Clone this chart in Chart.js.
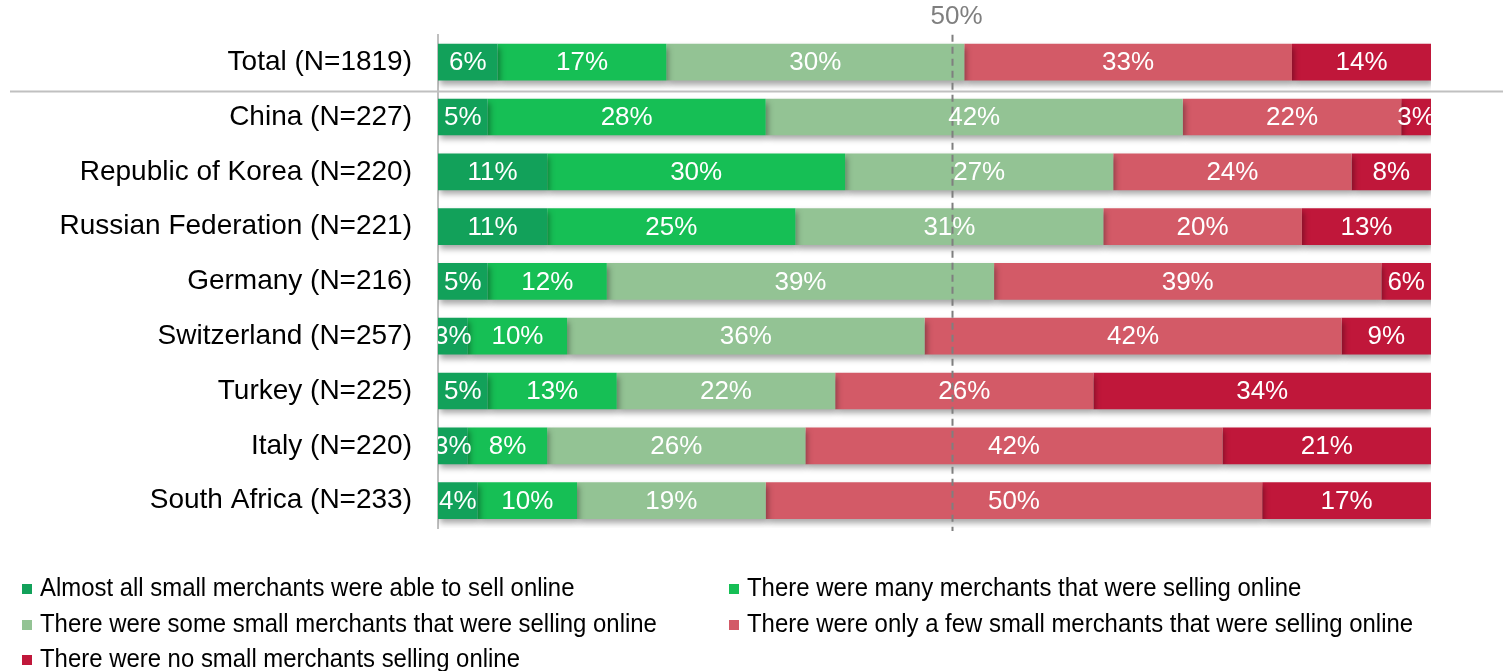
<!DOCTYPE html>
<html>
<head>
<meta charset="utf-8">
<script src="https://cdn.jsdelivr.net/npm/chart.js@4"></script>
<style>
  body { margin: 0; background: #fff; }
  #wrap { position: relative; width: 1503px; height: 671px; }
  #legend { position: absolute; left: 22px; top: 572px; width: 1460px;
    font-family: "Liberation Sans", Arial, sans-serif; font-size: 26px; color: #000; }
  .item { position: absolute; white-space: nowrap; line-height: 30px; }
  .box { display: inline-block; width: 10px; height: 10px; margin-right: 8px; vertical-align: 2px; }
  .txt { display: inline-block; transform: scaleX(0.92); transform-origin: left center; }
</style>
</head>
<body>
<div id="wrap">
  <canvas id="chart" width="1503" height="671"></canvas>
  <div id="legend"></div>
</div>
<script>
const categories = [
  "Total (N=1819)", "China (N=227)", "Republic of Korea (N=220)", "Russian Federation (N=221)",
  "Germany (N=216)", "Switzerland (N=257)", "Turkey (N=225)", "Italy (N=220)", "South Africa (N=233)"
];
const seriesNames = [
  "Almost all small merchants were able to sell online",
  "There were many merchants that were selling online",
  "There were some small merchants that were selling online",
  "There were only a few small merchants that were selling online",
  "There were no small merchants selling online"
];
const almostAll = [6, 5, 11, 11, 5, 3, 5, 3, 4];
const many      = [17, 28, 30, 25, 12, 10, 13, 8, 10];
const some      = [30, 42, 27, 31, 39, 36, 22, 26, 19];
const fewOnly   = [33, 22, 24, 20, 39, 42, 26, 42, 50];
const none      = [14, 3, 8, 13, 6, 9, 34, 21, 17];
const colors = ["#12A15A", "#16BF55", "#93C394", "#D35A67", "#C0173A"];
const markerValue = 51.8;
const markerLabel = "50%";

const seriesValues = [almostAll, many, some, fewOnly, none];

const extras = {
  id: "extras",
  beforeDatasetsDraw(chart) {
    const { ctx } = chart;
    ctx.save();
    ctx.shadowColor = "rgba(0,0,0,0.35)";
    ctx.shadowBlur = 6;
    ctx.shadowOffsetX = 2;
    ctx.shadowOffsetY = 4;
  },
  afterDatasetsDraw(chart) {
    const { ctx, chartArea, scales } = chart;
    ctx.restore();

    // separator under Total
    const y0 = scales.y.getPixelForValue(0);
    const y1 = scales.y.getPixelForValue(1);
    const sepY = Math.round((y0 + y1) / 2) + 1.5;
    ctx.save();
    ctx.strokeStyle = "#C0C0C0";
    ctx.lineWidth = 2;
    ctx.beginPath();
    ctx.moveTo(10, sepY);
    ctx.lineTo(chart.width, sepY);
    ctx.stroke();

    // 50% marker
    const mx = Math.round(scales.x.getPixelForValue(markerValue)) + 0.5;
    ctx.strokeStyle = "#7F7F7F";
    ctx.lineWidth = 2;
    ctx.setLineDash([7, 5]);
    ctx.beginPath();
    ctx.moveTo(mx, chartArea.top);
    ctx.lineTo(mx, chartArea.bottom + 3);
    ctx.stroke();
    ctx.setLineDash([]);
    ctx.fillStyle = "#7F7F7F";
    ctx.font = "26px 'Liberation Sans', Arial, sans-serif";
    ctx.textAlign = "center";
    ctx.textBaseline = "middle";
    ctx.fillText(markerLabel, mx + 4, 17);

    // bar labels
    ctx.beginPath();
    ctx.rect(chartArea.left, 0, chartArea.right - chartArea.left, chart.height);
    ctx.clip();
    ctx.fillStyle = "#fff";
    ctx.font = "26px 'Liberation Sans', Arial, sans-serif";
    chart.data.datasets.forEach((ds, i) => {
      chart.getDatasetMeta(i).data.forEach((bar, j) => {
        const left = Math.max(bar.base, chartArea.left);
        const right = Math.min(bar.x, chartArea.right);
        ctx.fillText(ds.data[j] + "%", (left + right) / 2, bar.y + 1);
      });
    });
    ctx.restore();
  }
};

new Chart(document.getElementById("chart"), {
  type: "bar",
  data: {
    labels: categories,
    datasets: seriesValues.map((vals, i) => ({
      label: seriesNames[i],
      data: vals,
      backgroundColor: colors[i],
      borderWidth: 0,
      categoryPercentage: 1,
      barPercentage: 0.67,
    })),
  },
  options: {
    indexAxis: "y",
    responsive: false,
    animation: false,
    layout: { padding: { top: 31, right: 72, bottom: 143, left: 0 } },
    plugins: { legend: { display: false }, tooltip: { enabled: false } },
    scales: {
      x: { stacked: true, min: 0, max: 100, display: false },
      y: {
        stacked: true,
        grid: { display: false },
        border: { display: true, color: "#BFBFBF", width: 2 },
        ticks: {
          color: "#000",
          padding: 18,
          font: { family: "'Liberation Sans', Arial, sans-serif", size: 28 },
        },
        afterFit(scale) { scale.width = 438; },
      },
    },
  },
  plugins: [extras],
});

const legendPos = [[0, 0], [707, 0], [0, 36], [707, 36], [0, 71]];
const legend = document.getElementById("legend");
seriesNames.forEach((name, i) => {
  const el = document.createElement("div");
  el.className = "item";
  el.style.left = legendPos[i][0] + "px";
  el.style.top = legendPos[i][1] + "px";
  el.innerHTML = `<span class="box" style="background:${colors[i]}"></span><span class="txt">${name}</span>`;
  legend.appendChild(el);
});
</script>
</body>
</html>
